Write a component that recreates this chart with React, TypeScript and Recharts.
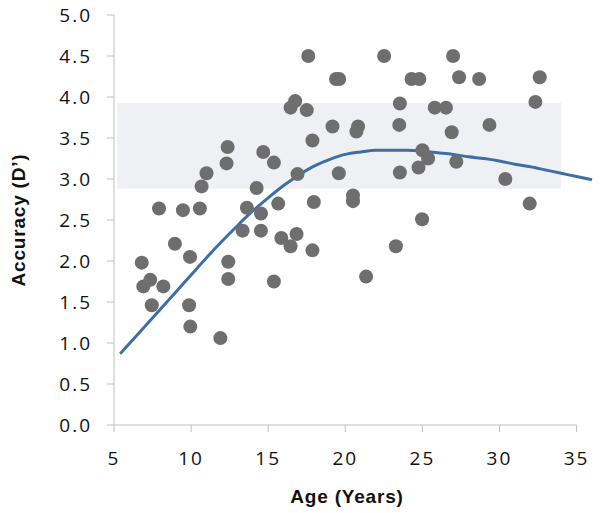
import {
  ComposedChart,
  Scatter,
  Line,
  XAxis,
  YAxis,
  ReferenceArea,
  ReferenceLine,
  Label,
} from 'recharts';

// observed subjects (age in years, D' accuracy)
const ages = [
  6.8, 6.9, 7.35, 7.45, 8.2, 8.95, 9.93, 9.87, 9.95, 11.9, 12.41, 12.41, 7.92, 9.47,
  10.57, 10.68, 11.0, 12.3, 12.37, 13.34, 13.62, 14.25, 14.53, 14.53, 14.68, 15.37,
  15.65, 15.37, 15.85, 16.45, 16.84, 16.45, 16.75, 16.9, 17.5, 17.6, 17.87, 17.96,
  17.87, 19.17, 19.4, 19.6, 19.58, 20.5, 20.5, 20.83, 20.72, 21.35, 22.52, 23.28, 23.5,
  23.54, 23.54, 24.3, 24.8, 25.0, 25.37, 24.75, 24.98, 25.8, 26.53, 26.9, 26.99, 27.2,
  27.38, 28.68, 29.35, 30.38, 31.96, 32.33, 32.61,
];
const accuracy = [
  1.98, 1.69, 1.77, 1.46, 1.69, 2.21, 2.05, 1.46, 1.2, 1.06, 1.99, 1.78, 2.64, 2.62,
  2.64, 2.91, 3.07, 3.19, 3.39, 2.37, 2.65, 2.89, 2.58, 2.37, 3.33, 3.2,
  2.7, 1.75, 2.28, 2.18, 2.33, 3.87, 3.95, 3.06, 3.84, 4.5, 3.47, 2.72,
  2.13, 3.64, 4.22, 4.22, 3.07, 2.8, 2.73, 3.64, 3.58, 1.81, 4.5, 2.18, 3.66,
  3.92, 3.08, 4.22, 4.22, 3.35, 3.25, 3.14, 2.51, 3.87, 3.87, 3.57, 4.5, 3.21,
  4.24, 4.22, 3.66, 3.0, 2.7, 3.94, 4.24,
];

// fitted trend line
const fitAge = [5.4, 7, 8, 9, 10, 11, 12, 13, 14, 15, 16, 17, 18, 19, 20, 21, 22, 23, 24, 25, 26, 27, 28, 29, 30, 31, 32, 33, 34, 35, 36];
const fitAcc = [0.87, 1.2, 1.41, 1.62, 1.83, 2.04, 2.24, 2.43, 2.61, 2.77, 2.92, 3.05, 3.16, 3.24, 3.3, 3.33, 3.35, 3.35, 3.35, 3.34, 3.32, 3.3, 3.27, 3.25, 3.22, 3.18, 3.15, 3.11, 3.07, 3.03, 2.99];

// adult range band
const bandAge = [5.2, 34];
const bandAcc = [2.88, 3.93];

const xTicks = [5, 10, 15, 20, 25, 30, 35];
const yTicks = [0, 0.5, 1, 1.5, 2, 2.5, 3, 3.5, 4, 4.5, 5];

const points = ages.map((x, i) => ({ x, y: accuracy[i] }));
const fit = fitAge.map((x, i) => ({ x, y: fitAcc[i] }));

const AXIS = '#bfbfbf';
const tickFont = { fontFamily: 'Open Sans', fontSize: 19, fill: '#111', letterSpacing: 2 };
const titleFont = {
  fontFamily: 'Liberation Sans',
  fontSize: 19,
  fontWeight: 'bold',
  fill: '#111',
  letterSpacing: 0.8,
};

export default function App() {
  return (
    <div style={{ position: 'absolute', left: 0, top: 0 }}>
      <ComposedChart
        width={601}
        height={513}
        margin={{ top: 15, right: 9, bottom: 0, left: 0 }}
      >
        <ReferenceArea
          x1={bandAge[0]}
          x2={bandAge[1]}
          y1={bandAcc[0]}
          y2={bandAcc[1]}
          fill="#eef0f3"
          fillOpacity={1}
          stroke="none"
        />
        <XAxis
          type="number"
          dataKey="x"
          domain={[5, 36]}
          ticks={xTicks}
          axisLine={false}
          tickLine={{ stroke: AXIS }}
          tickSize={7}
          tickMargin={20}
          tick={tickFont}
          height={88}
          allowDuplicatedCategory={false}
        >
          <Label value="Age (Years)" position="insideBottom" offset={10} dx={-6} style={titleFont} />
        </XAxis>
        <YAxis
          type="number"
          dataKey="y"
          domain={[0, 5]}
          ticks={yTicks}
          tickFormatter={(v: number) => v.toFixed(1)}
          axisLine={{ stroke: AXIS }}
          tickLine={{ stroke: AXIS }}
          tickSize={7}
          tickMargin={15}
          tick={tickFont}
          width={114}
        >
          <Label
            value="Accuracy (D’)"
            angle={-90}
            position="insideLeft"
            offset={18}
            style={{ ...titleFont, textAnchor: 'middle' }}
          />
        </YAxis>
        <ReferenceLine
          segment={[{ x: 5, y: 0 }, { x: 35, y: 0 }]}
          stroke={AXIS}
          strokeWidth={1}
        />
        <Scatter
          data={points}
          dataKey="y"
          fill="#6e6e6e"
          shape={(p: any) => <circle cx={p.cx} cy={p.cy} r={7} fill="#6e6e6e" />}
          isAnimationActive={false}
        />
        <Line
          data={fit}
          dataKey="y"
          type="monotone"
          stroke="#3d6fa6"
          strokeWidth={3}
          dot={false}
          activeDot={false}
          isAnimationActive={false}
        />
      </ComposedChart>
    </div>
  );
}
